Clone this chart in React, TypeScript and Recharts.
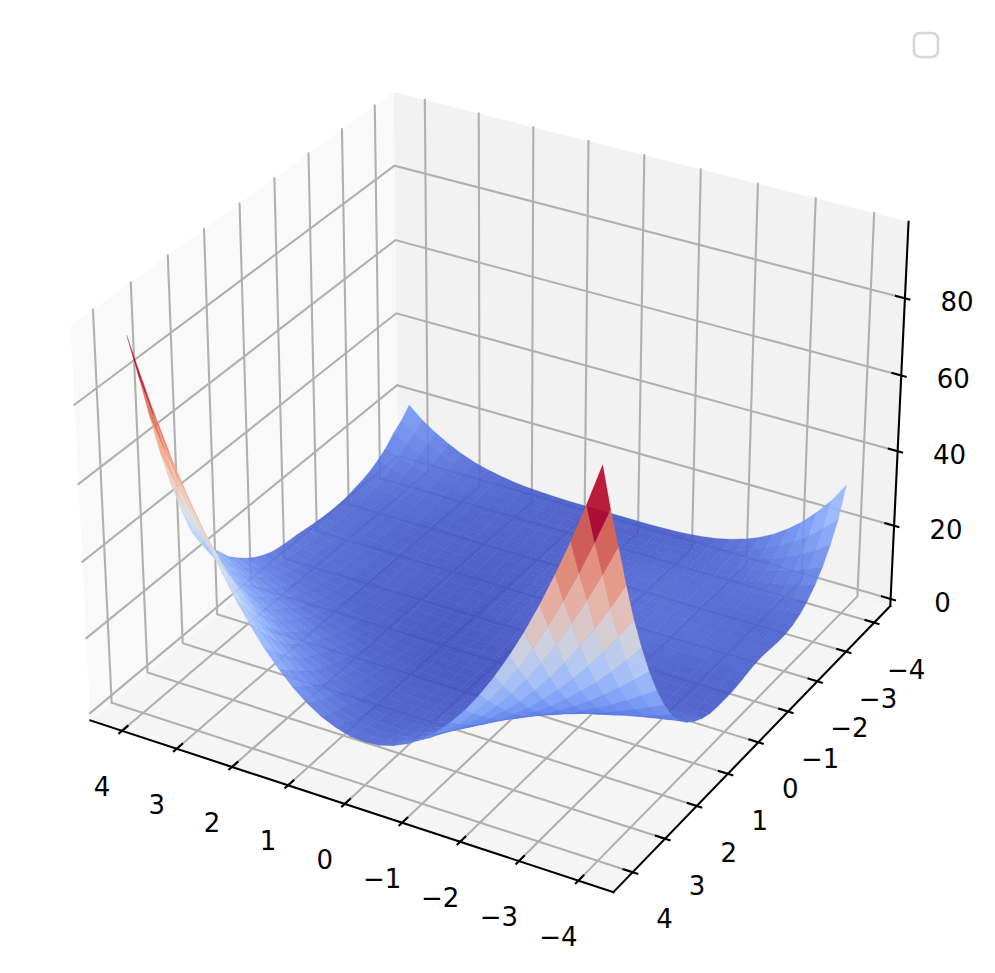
import React from 'react';
import { ScatterChart, Scatter, XAxis, YAxis } from 'recharts';

const W = 995, H = 973;
const X_VALUES = [-4,-3.75,-3.5,-3.25,-3,-2.75,-2.5,-2.25,-2,-1.75,-1.5,-1.25,-1,-0.75,-0.5,-0.25,0,0.25,0.5,0.75,1,1.25,1.5,1.75,2,2.25,2.5,2.75,3,3.25,3.5,3.75,4];
const Y_VALUES = X_VALUES;
// Surface heights in tenths, one row per Y value (y = -4 first), one column per X value.
const Z_TENTHS = [
[328,276,233,196,166,141,121,106,94,85,79,75,72,71,70,70,70,70,70,70,70,71,73,75,79,85,92,102,116,133,154,179,210],
[255,219,188,162,140,123,108,97,88,82,77,74,72,71,70,70,70,69,69,69,70,71,72,75,78,84,90,99,110,124,141,161,185],
[205,179,157,139,124,111,101,93,87,82,78,76,74,72,71,71,70,69,69,69,70,71,72,74,78,82,89,96,106,118,132,149,168],
[165,147,132,120,110,102,95,90,86,82,80,78,76,74,73,71,70,68,67,67,67,68,70,72,75,79,84,90,98,107,118,130,145],
[135,123,113,106,100,95,91,89,86,84,82,80,78,76,74,72,70,68,66,65,65,66,67,70,72,76,80,85,92,99,108,118,130],
[112,104,99,95,92,90,89,88,87,86,85,83,81,79,76,73,70,67,65,63,63,64,65,67,70,73,77,81,87,93,100,109,118],
[95,91,88,87,87,88,88,89,89,89,88,87,85,82,79,75,71,67,64,62,62,63,64,66,68,71,74,79,83,89,95,102,110],
[85,82,82,82,84,86,88,90,91,91,90,89,87,83,80,75,71,67,63,61,60,61,62,64,66,69,72,76,81,86,91,98,105],
[80,78,78,80,83,85,88,90,92,92,92,90,88,84,80,75,70,65,61,59,58,59,61,62,65,67,70,74,78,82,88,94,100],
[80,78,79,80,83,86,89,91,93,93,93,91,88,84,80,74,69,64,60,57,57,58,59,61,63,66,69,73,77,81,86,92,98],
[82,80,80,82,85,87,90,92,94,94,93,91,88,84,79,74,68,63,59,56,56,57,59,61,63,66,69,73,77,82,87,92,98],
[84,82,82,83,85,88,90,92,93,93,92,89,86,82,77,71,66,61,57,55,55,56,58,61,63,66,70,74,78,83,88,94,100],
[83,81,81,82,84,86,88,89,90,90,89,86,83,79,74,69,64,60,56,54,55,56,59,61,64,67,71,75,80,85,90,96,102],
[79,77,77,78,80,82,84,85,86,85,84,82,79,75,71,66,62,58,55,53,54,56,58,61,64,67,72,76,81,86,92,99,106],
[74,73,73,74,76,77,79,80,80,80,79,77,74,71,67,63,59,56,53,52,53,55,57,60,64,67,72,77,82,88,95,102,110],
[70,69,69,70,71,73,74,74,74,74,73,71,69,66,63,59,56,53,52,51,52,54,56,59,63,67,72,77,82,89,96,104,112],
[69,68,68,68,69,69,69,69,69,68,67,65,63,61,58,56,53,52,50,50,52,54,56,59,63,67,72,78,84,90,98,106,115],
[69,68,67,67,67,66,66,65,64,63,61,60,58,56,54,52,51,50,49,50,51,54,56,60,64,68,74,79,86,93,101,110,120],
[71,70,69,68,67,65,64,62,61,59,58,56,54,52,51,50,49,49,49,50,52,54,58,62,66,71,77,84,91,100,109,119,130],
[79,77,75,72,70,68,65,63,60,58,56,54,52,50,49,48,48,48,49,50,53,56,60,64,69,75,82,90,99,108,119,130,143],
[92,89,85,81,78,74,70,67,63,60,57,55,52,51,49,48,48,49,50,52,55,59,63,68,75,82,90,99,109,120,132,145,160],
[110,105,99,94,88,83,78,73,69,64,61,57,54,52,50,49,49,50,51,54,57,62,67,74,81,89,99,109,121,134,148,163,180],
[135,127,119,111,103,96,89,82,76,71,66,61,58,55,53,51,51,52,54,57,61,67,73,80,89,99,110,122,136,150,167,184,203],
[170,158,146,134,123,113,103,95,86,79,72,67,62,58,55,54,53,54,57,61,66,72,80,89,100,112,125,140,156,173,192,213,235],
[217,199,182,165,150,136,123,110,99,90,81,73,67,62,59,57,56,57,60,65,72,80,89,100,113,127,142,159,178,198,220,243,268],
[275,250,226,203,182,163,145,129,115,102,90,81,73,67,63,60,59,60,64,69,77,86,97,110,124,140,158,177,198,221,246,272,300],
[345,311,279,249,221,196,173,152,133,116,102,90,80,72,66,63,62,63,67,74,82,93,106,121,138,157,178,201,226,253,282,312,345],
[425,381,340,302,267,235,205,179,155,134,115,100,87,78,71,66,65,67,71,79,89,102,118,136,157,181,207,236,268,302,339,378,420],
[515,461,410,363,319,279,242,209,180,154,131,111,97,85,76,71,69,71,76,84,96,112,131,153,179,208,240,276,315,357,403,452,505],
[620,553,491,434,380,331,286,246,210,178,150,127,108,93,82,76,74,76,82,93,108,126,149,176,208,243,283,326,374,425,481,541,605],
[735,655,581,511,447,388,335,286,243,205,171,143,121,103,90,83,80,83,90,103,120,143,171,203,241,284,331,384,441,503,571,643,720],
[845,753,667,587,513,445,383,326,276,232,193,161,134,114,99,90,87,90,99,114,134,161,193,231,276,326,382,443,511,584,664,749,840],
[970,864,764,672,586,507,436,371,313,262,217,180,149,126,109,98,95,98,109,125,149,179,217,260,311,368,432,503,580,664,754,851,955],
];
const XT = [4, 3, 2, 1, 0, -1, -2, -3, -4];
const YT = [4, 3, 2, 1, 0, -1, -2, -3, -4];
const ZT = [0, 20, 40, 60, 80];
const ZMIN = 4.5, ZMAX = 93;
const XL = 4.4; const ZLO = ZMIN - 0.05 * (ZMAX - ZMIN), ZHI = ZMAX + 0.05 * (ZMAX - ZMIN);
const PX = XL + 8.8 / 48, ZPL = ZLO - (ZHI - ZLO) / 48, ZPH = ZHI + (ZHI - ZLO) / 48;
const AS = 1.8294640721620434 * 25 / 24 / Math.sqrt(41);
const ax = 4 * AS, az = 3 * AS;
const D = 10, ce = Math.cos(Math.PI / 6), se = 0.5, ca = -0.5, sa = Math.sqrt(3) / 2;
const w = [ce * ca, ce * sa, se];
const u = [-sa, ca, 0];
const v = [w[1] * u[2] - w[2] * u[1], w[2] * u[0] - w[0] * u[2], w[0] * u[1] - w[1] * u[0]];
const S = 4830, A0 = 498, C0 = 472;
function proj(x: number, y: number, z: number) {
  const p = [(x + XL) / 8.8 * ax - ax / 2, (y + XL) / 8.8 * ax - ax / 2, (z - ZLO) / (ZHI - ZLO) * az - az / 2];
  const du = p[0] * u[0] + p[1] * u[1], dv = p[0] * v[0] + p[1] * v[1] + p[2] * v[2], dw = p[0] * w[0] + p[1] * w[1] + p[2] * w[2];
  const d = D - dw;
  return { px: A0 + S * du / d, py: C0 - S * dv / d, d };
}
const CM: [number, number, number, number][] = [[0, 59, 76, 192], [.125, 98, 130, 234], [.25, 141, 176, 254], [.375, 184, 208, 249], [.5, 221, 221, 221], [.625, 245, 196, 173], [.75, 244, 154, 123], [.875, 222, 96, 77], [1, 180, 4, 38]];
function cmap(t: number) {
  t = Math.max(0, Math.min(1, t));
  for (let i = 1; i < CM.length; i++) if (t <= CM[i][0]) {
    const a = CM[i - 1], b = CM[i], f = (t - a[0]) / (b[0] - a[0]);
    return `rgb(${a[1] + f * (b[1] - a[1])},${a[2] + f * (b[2] - a[2])},${a[3] + f * (b[3] - a[3])})`;
  }
  return 'rgb(180,4,38)';
}
type Pt = { px: number; py: number };
const mk = (poly: Pt[], style: any) => ({ px: poly[0].px, py: poly[0].py, poly, ...style });
const Poly = (p: any) => {
  const { cx, cy, payload } = p;
  const pts = payload.poly.map((q: Pt) => `${cx + q.px - payload.px},${cy + q.py - payload.py}`).join(' ');
  return payload.line
    ? <polyline points={pts} fill="none" stroke={payload.line} strokeWidth={payload.lw} strokeLinecap="square" />
    : <polygon points={pts} fill={payload.fill} fillOpacity={payload.op ?? 1} stroke={payload.op ? payload.fill : 'none'} strokeWidth={payload.op ? 0.3 : 0} strokeOpacity={payload.op ?? 1} />;
};
const Lab = (p: any) => <text x={p.cx} y={p.cy} textAnchor="middle" dominantBaseline="central" fontFamily="DejaVu Sans" fontSize={26} fill="#000">{p.payload.t}</text>;
const LegendBox = (p: any) => <rect x={p.cx - 12} y={p.cy - 12} width={24} height={24} rx={6} fill="#fff" stroke="#d6d6d6" strokeWidth={2.6} />;

const panes = [
  mk([proj(PX, PX, ZPL), proj(PX, -PX, ZPL), proj(PX, -PX, ZPH), proj(PX, PX, ZPH)], { fill: '#f9f9f9' }),
  mk([proj(PX, -PX, ZPL), proj(-PX, -PX, ZPL), proj(-PX, -PX, ZPH), proj(PX, -PX, ZPH)], { fill: '#f2f2f2' }),
  mk([proj(PX, PX, ZPL), proj(-PX, PX, ZPL), proj(-PX, -PX, ZPL), proj(PX, -PX, ZPL)], { fill: '#f5f5f5' }),
];
const G = { line: '#b0b0b0', lw: 2.1 };
const grids = [
  ...XT.map(x => mk([proj(x, PX, ZPL), proj(x, -PX, ZPL), proj(x, -PX, ZPH)], G)),
  ...YT.map(y => mk([proj(-PX, y, ZPL), proj(PX, y, ZPL), proj(PX, y, ZPH)], G)),
  ...ZT.map(z => mk([proj(-PX, -PX, z), proj(PX, -PX, z), proj(PX, PX, z)], G)),
];
const K = { line: '#000', lw: 2.1 };
const ddx = 8.8 * (1 + 1 / 24) / 12;
const axes = [
  mk([proj(PX, PX, ZPL), proj(-PX, PX, ZPL)], K),
  mk([proj(-PX, PX, ZPL), proj(-PX, -PX, ZPL)], K),
  mk([proj(-PX, -PX, ZPL), proj(-PX, -PX, ZPH)], K),
  ...XT.map(x => mk([proj(x, PX - 0.2 * ddx, ZPL), proj(x, PX + 0.1 * ddx, ZPL)], K)),
  ...YT.map(y => mk([proj(-PX + 0.2 * ddx, y, ZPL), proj(-PX - 0.1 * ddx, y, ZPL)], K)),
  ...ZT.map(z => mk([proj(-PX + 0.2 * ddx, -PX, z), proj(-PX - 0.1 * ddx, -PX, z)], K)),
];
const fmt = (n: number) => (n < 0 ? '\u2212' + -n : '' + n);
const labels = [
  ...XT.map(x => { const p = proj(x, PX, ZPL); return { px: p.px - 20, py: p.py + 56, t: fmt(x) }; }),
  ...YT.map(y => { const p = proj(-PX, y, ZPL); return { px: p.px + 32, py: p.py + 47, t: fmt(y) }; }),
  ...ZT.map(z => { const p = proj(-PX, -PX, z); return { px: p.px + 52, py: p.py + 4, t: fmt(z) }; }),
];
const facets: any[] = [];
for (let i = 0; i < 32; i++) for (let j = 0; j < 32; j++) {
  const c = [[i, j], [i + 1, j], [i + 1, j + 1], [i, j + 1]].map(([a, b]) => ({ x: X_VALUES[a], y: Y_VALUES[b], z: Z_TENTHS[b][a] / 10 }));
  const ps = c.map(q => proj(q.x, q.y, q.z));
  const mz = c.reduce((s, q) => s + q.z, 0) / 4;
  facets.push({ ...mk(ps, { op: 0.9 }), mz, dd: ps.reduce((s, q) => s + q.d, 0) / 4 });
}
const vmin = Math.min(...facets.map(f => f.mz)), vmax = Math.max(...facets.map(f => f.mz));
facets.forEach(f => { f.fill = cmap((f.mz - vmin) / (vmax - vmin)); });
facets.sort((a, b) => b.dd - a.dd);

export default function App() {
  return (
    <div style={{ position: 'absolute', left: 0, top: 0, width: W, height: H, background: '#fff' }}>
      <ScatterChart width={W} height={H} margin={{ top: 0, right: 0, bottom: 0, left: 0 }}>
        <XAxis type="number" dataKey="px" domain={[0, W]} hide />
        <YAxis type="number" dataKey="py" domain={[0, H]} reversed hide />
        <Scatter data={panes} shape={Poly} isAnimationActive={false} />
        <Scatter data={grids} shape={Poly} isAnimationActive={false} />
        <Scatter data={axes} shape={Poly} isAnimationActive={false} />
        <Scatter data={labels} shape={Lab} isAnimationActive={false} />
        <Scatter data={facets} shape={Poly} isAnimationActive={false} />
        <Scatter data={[{ px: 926, py: 45 }]} shape={LegendBox} isAnimationActive={false} />
      </ScatterChart>
    </div>
  );
}
